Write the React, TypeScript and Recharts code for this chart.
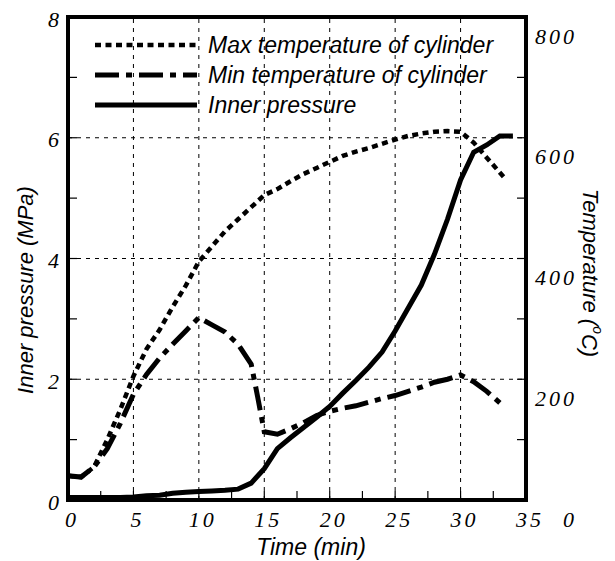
import { LineChart, Line, XAxis, YAxis, ReferenceLine, ReferenceArea, Legend } from "recharts";

// time (min) and values
const pressureTime = [0, 2, 4, 5, 6, 7, 8, 9, 10, 11, 12, 13, 14, 15, 16, 17, 18, 19, 20, 21, 22, 23, 24, 25, 26, 27, 28, 29, 30, 31, 32, 33, 34];
const pressureMPa = [0.04, 0.04, 0.04, 0.05, 0.07, 0.08, 0.11, 0.13, 0.14, 0.15, 0.16, 0.18, 0.28, 0.52, 0.85, 1.03, 1.2, 1.37, 1.55, 1.77, 1.98, 2.2, 2.45, 2.8, 3.18, 3.56, 4.07, 4.65, 5.3, 5.76, 5.88, 6.03, 6.03];

const maxTempTime = [0, 1, 2, 3, 4, 5, 6, 7, 8, 9, 10, 11, 12, 13, 14, 15, 16, 17, 18, 19, 20, 21, 22, 23, 24, 25, 26, 27, 28, 29, 30, 31, 32, 33.3];
const maxTempC = [40, 38, 55, 100, 150, 205, 250, 282, 320, 355, 395, 420, 445, 465, 485, 505, 515, 528, 540, 550, 560, 570, 577, 583, 590, 597, 603, 607, 610, 611, 610, 592, 567, 535];

const minTempTime = [0, 1, 2, 3, 4, 5, 6, 7, 8, 9, 10, 11, 12, 13, 14, 14.5, 15, 16, 17, 18, 19, 20, 21, 22, 23, 24, 25, 26, 27, 28, 29, 30, 31, 32, 33.2];
const minTempC = [40, 38, 55, 85, 127, 175, 208, 235, 258, 280, 302, 290, 278, 258, 225, 170, 113, 109, 118, 128, 140, 147, 152, 156, 162, 168, 173, 180, 187, 195, 200, 207, 196, 180, 157];

const seriesNames = ["Max temperature of cylinder", "Min temperature of cylinder", "Inner pressure"];

const timeTicks = [0, 2.5, 5, 7.5, 10, 12.5, 15, 17.5, 20, 22.5, 25, 27.5, 30, 32.5, 35];
const pressureTicks = [0, 1, 2, 3, 4, 5, 6, 7, 8];
const tempTicks = [0, 100, 200, 300, 400, 500, 600, 700, 800];
const timeGrid = [5, 10, 15, 20, 25, 30];
const pressureGrid = [2, 4, 6];

const toPoints = (ts: number[], vs: number[]) => ts.map((t, i) => ({ t, v: vs[i] }));

const serif = '"Times New Roman", "Liberation Serif", Times, serif';
const sans = '"Liberation Sans", Arial, sans-serif';

function Num({ x, y, anchor, children }: any) {
  return (
    <text x={x} y={y} textAnchor={anchor} dominantBaseline="central" fontFamily={serif} fontStyle="italic" fontSize={22} letterSpacing={3} fill="#000">
      {children}
    </text>
  );
}

function BottomTick({ x, y, payload }: any) {
  const v = payload.value;
  return (
    <g>
      {v > 0 && v < 35 && <line x1={x} x2={x} y1={y} y2={y - 9} stroke="#000" strokeWidth={1.2} />}
      {v % 5 === 0 && (
        <Num x={x + 4} y={y + 19} anchor="middle">
          {String(v)}
        </Num>
      )}
    </g>
  );
}

function TopTick({ x, y, payload }: any) {
  const v = payload.value;
  if (v <= 0 || v >= 35) return <g />;
  return <line x1={x} x2={x} y1={y} y2={y + 9} stroke="#000" strokeWidth={1.2} />;
}

function LeftTick({ x, y, payload }: any) {
  const v = payload.value;
  return (
    <g>
      {v > 0 && v < 8 && <line x1={x} x2={x + 9} y1={y} y2={y} stroke="#000" strokeWidth={1.2} />}
      {v % 2 === 0 && (
        <Num x={x - 6} y={y + 2} anchor="end">
          {String(v)}
        </Num>
      )}
    </g>
  );
}

function RightTick({ x, y, payload }: any) {
  const v = payload.value;
  return (
    <g>
      {v > 0 && v < 800 && <line x1={x} x2={x - 9} y1={y} y2={y} stroke="#000" strokeWidth={1.2} />}
      {v % 200 === 0 && (
        <Num x={x + 51} y={y + 19} anchor="end">
          {String(v)}
        </Num>
      )}
    </g>
  );
}

function LegendBox({ payload }: any) {
  const items = [...(payload || [])].sort((a: any, b: any) => seriesNames.indexOf(a.value) - seriesNames.indexOf(b.value));
  return (
    <svg width={420} height={95}>
      {items.map((entry: any, i: number) => {
        const p = entry.payload || {};
        const y = 15 + i * 30;
        return (
          <g key={entry.value}>
            <line x1={5} x2={107} y1={y} y2={y} stroke="#000" strokeWidth={p.strokeWidth || 4} strokeDasharray={p.strokeDasharray} />
            <text x={118} y={y} dominantBaseline="central" fontFamily={sans} fontStyle="italic" fontSize={23} fill="#000">
              {entry.value}
            </text>
          </g>
        );
      })}
    </svg>
  );
}

export default function App() {
  return (
    <div style={{ position: "absolute", left: 0, top: 0, width: 615, height: 561, background: "#fff" }}>
      <LineChart width={615} height={561} margin={{ top: 0, right: 0, bottom: 0, left: 0 }}>
        <XAxis
          xAxisId="bottom"
          type="number"
          dataKey="t"
          domain={[0, 35]}
          ticks={timeTicks}
          interval={0}
          height={61}
          axisLine={false}
          tickLine={false}
          tickSize={0}
          tickMargin={0}
          tick={BottomTick}
          label={{
            content: ({ viewBox }: any) => (
              <text x={viewBox.x + viewBox.width / 2 + 14} y={viewBox.y + 47} textAnchor="middle" dominantBaseline="central" fontFamily={sans} fontStyle="italic" fontSize={23} fill="#000">
                Time (min)
              </text>
            ),
          }}
        />
        <XAxis
          xAxisId="top"
          orientation="top"
          type="number"
          dataKey="t"
          domain={[0, 35]}
          ticks={timeTicks}
          interval={0}
          height={17}
          axisLine={false}
          tickLine={false}
          tickSize={0}
          tickMargin={0}
          tick={TopTick}
        />
        <YAxis
          yAxisId="p"
          type="number"
          domain={[0, 8]}
          ticks={pressureTicks}
          interval={0}
          width={68}
          axisLine={false}
          tickLine={false}
          tickSize={0}
          tickMargin={0}
          tick={LeftTick}
          label={{
            content: ({ viewBox }: any) => {
              const cx = viewBox.x + 25;
              const cy = viewBox.y + 273;
              return (
                <text x={cx} y={cy} transform={`rotate(-90 ${cx} ${cy})`} textAnchor="middle" dominantBaseline="central" fontFamily={sans} fontStyle="italic" fontSize={22} fill="#000">
                  Inner pressure (MPa)
                </text>
              );
            },
          }}
        />
        <YAxis
          yAxisId="temp"
          orientation="right"
          type="number"
          domain={[0, 800]}
          ticks={tempTicks}
          interval={0}
          width={89}
          axisLine={false}
          tickLine={false}
          tickSize={0}
          tickMargin={0}
          tick={RightTick}
          label={{
            content: ({ viewBox }: any) => {
              const cx = viewBox.x + 64;
              const cy = viewBox.y + 256;
              return (
                <text x={cx} y={cy} transform={`rotate(90 ${cx} ${cy})`} textAnchor="middle" dominantBaseline="central" fontFamily={sans} fontStyle="italic" fontSize={22} fill="#000">
                  Temperature (<tspan dy={-8} fontSize={14}>o</tspan>
                  <tspan dy={8}>C)</tspan>
                </text>
              );
            },
          }}
        />

        {timeGrid.map((t) => (
          <ReferenceLine key={"vx" + t} xAxisId="bottom" yAxisId="p" x={t} stroke="#000" strokeWidth={1} strokeDasharray="4 5" />
        ))}
        {pressureGrid.map((p) => (
          <ReferenceLine key={"hy" + p} xAxisId="bottom" yAxisId="p" y={p} stroke="#000" strokeWidth={1} strokeDasharray="4 5" />
        ))}

        <Line
          xAxisId="bottom"
          yAxisId="temp"
          data={toPoints(maxTempTime, maxTempC)}
          dataKey="v"
          name={seriesNames[0]}
          type="linear"
          stroke="#000"
          strokeWidth={4.5}
          strokeDasharray="6 4.5"
          dot={false}
          isAnimationActive={false}
        />
        <Line
          xAxisId="bottom"
          yAxisId="temp"
          data={toPoints(minTempTime, minTempC)}
          dataKey="v"
          name={seriesNames[1]}
          type="linear"
          stroke="#000"
          strokeWidth={5}
          strokeDasharray="24 7 6 7"
          dot={false}
          isAnimationActive={false}
        />
        <Line
          xAxisId="bottom"
          yAxisId="p"
          data={toPoints(pressureTime, pressureMPa)}
          dataKey="v"
          name={seriesNames[2]}
          type="linear"
          stroke="#000"
          strokeWidth={5}
          dot={false}
          isAnimationActive={false}
        />

        <ReferenceArea xAxisId="bottom" yAxisId="p" x1={0} x2={35} y1={0} y2={8} fill="none" stroke="#000" strokeWidth={4} ifOverflow="visible" />

        <Legend layout="vertical" align="center" verticalAlign="middle" content={LegendBox} wrapperStyle={{ left: 90, top: 30, width: 420, height: 95 }} />
      </LineChart>
    </div>
  );
}
